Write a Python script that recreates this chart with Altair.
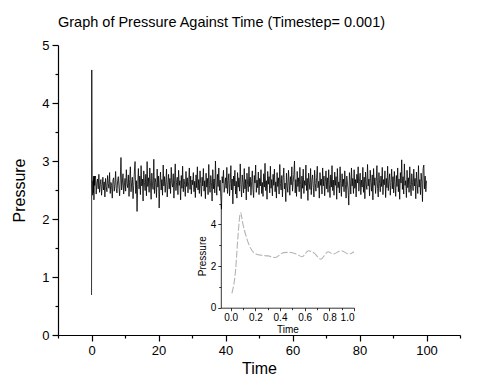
import altair as alt
import pandas as pd

# ---- data ----
# start-up transient (also shown in the inset)
start_time = [0.01, 0.04, 0.06, 0.08, 0.10, 0.13, 0.17, 0.21, 0.25, 0.305, 0.36, 0.43, 0.48,
              0.535, 0.58, 0.63, 0.68, 0.73, 0.79, 0.83, 0.895, 0.96, 1.0]
start_pressure = [0.69, 1.81, 3.50, 4.57, 4.00, 3.34, 2.77, 2.57, 2.52, 2.49, 2.41, 2.65, 2.66,
                  2.57, 2.45, 2.74, 2.61, 2.33, 2.69, 2.58, 2.74, 2.58, 2.69]

# fluctuating pressure, one value every 0.2 time units from 1.2 to 100
noise_pressure = [
    2.58, 2.71, 2.49, 2.66, 2.55, 2.74, 2.43, 2.62, 2.69, 2.52,
    2.77, 2.46, 2.60, 2.68, 2.41, 2.57, 2.72, 2.50, 2.64, 2.38,
    2.70, 2.56, 2.47, 2.75, 2.61, 2.53, 2.80, 2.44, 2.63, 2.58,
    2.36, 2.67, 2.71, 2.48, 2.59, 2.82, 2.52, 2.45, 2.66, 2.73,
    2.55, 2.40, 2.69, 3.06, 2.50, 2.62, 2.78, 2.43, 2.57, 2.70,
    2.48, 2.85, 2.61, 2.54, 2.76, 2.39, 2.68, 2.90, 2.47, 2.63,
    2.72, 2.35, 2.58, 2.81, 2.99, 2.44, 2.66, 2.13, 2.60, 2.87,
    2.52, 2.74, 2.42, 2.92, 2.57, 2.69, 2.31, 2.83, 2.63, 2.49,
    2.77, 2.40, 2.99, 2.56, 2.71, 2.46, 2.88, 2.62, 2.34, 2.79,
    2.58, 2.51, 3.03, 2.44, 2.70, 2.63, 2.37, 2.86, 2.55, 2.74,
    2.19, 2.62, 2.81, 2.50, 2.68, 2.41, 2.93, 2.57, 2.73, 2.46,
    2.64, 2.86, 2.38, 2.59, 2.77, 2.52, 2.70, 2.44, 2.89, 2.61,
    2.55, 2.78, 2.36, 2.67, 2.95, 2.49, 2.63, 2.72, 2.42, 2.84,
    2.58, 2.66, 2.33, 2.75, 2.53, 2.91, 2.47, 2.69, 2.60, 2.39,
    2.82, 2.56, 2.71, 2.45, 2.64, 2.88, 2.51, 2.74, 2.43, 2.67,
    2.59, 2.80, 2.47, 2.65, 2.37, 2.76, 2.54, 2.90, 2.50, 2.68,
    2.44, 2.83, 2.61, 2.39, 2.72, 2.57, 2.87, 2.48, 2.66, 2.35,
    2.79, 2.55, 2.70, 2.42, 2.94, 2.58, 2.46, 2.75, 2.63, 2.31,
    2.85, 2.52, 2.69, 2.45, 3.00, 2.60, 2.41, 2.77, 2.56, 2.88,
    2.49, 2.67, 2.38, 2.17, 2.73, 2.62, 2.84, 2.46, 2.58, 2.71,
    2.53, 2.89, 2.44, 2.66, 2.78, 2.40, 2.61, 2.92, 2.50, 2.69,
    2.26, 2.74, 2.57, 2.84, 2.43, 2.65, 2.36, 2.80, 2.55, 2.71,
    2.48, 2.95, 2.59, 2.38, 2.76, 2.63, 2.45, 2.87, 2.52, 2.68,
    2.33, 2.79, 2.60, 2.47, 2.90, 2.56, 2.72, 2.41, 2.64, 2.83,
    2.51, 2.37, 2.75, 2.62, 2.93, 2.46, 2.67, 2.54, 2.81, 2.42,
    2.70, 2.57, 2.85, 2.44, 2.63, 2.39, 2.78, 2.55, 2.96, 2.49,
    2.66, 2.34, 2.82, 2.60, 2.73, 2.45, 2.91, 2.53, 2.68, 2.40,
    2.77, 2.58, 2.86, 2.47, 2.64, 2.36, 2.80, 2.56, 2.71, 2.43,
    2.94, 2.61, 2.50, 2.75, 2.38, 2.69, 2.88, 2.52, 2.62, 2.30,
    2.79, 2.57, 2.46, 2.84, 2.65, 2.41, 2.73, 2.59, 2.90, 2.48,
    2.63, 2.77, 3.00, 2.45, 2.68, 2.39, 2.82, 2.56, 2.71, 2.47,
    2.89, 2.60, 2.35, 2.74, 2.53, 2.86, 2.44, 2.66, 2.58, 2.93,
    2.49, 2.70, 2.32, 2.79, 2.62, 2.51, 2.87, 2.42, 2.67, 2.76,
    2.55, 2.38, 2.84, 2.61, 2.48, 2.72, 2.91, 2.54, 2.65, 2.36,
    2.80, 2.58, 2.69, 2.43, 2.88, 2.57, 2.74, 2.40, 2.64, 2.83,
    2.52, 2.71, 2.46, 2.85, 2.60, 2.37, 2.76, 2.55, 2.92, 2.49,
    2.67, 2.41, 2.81, 2.58, 2.73, 2.34, 2.87, 2.54, 2.64, 2.45,
    2.90, 2.61, 2.39, 2.78, 2.56, 2.69, 2.47, 2.83, 2.59, 2.36,
    2.74, 2.62, 2.50, 2.24, 2.80, 2.66, 2.43, 2.88, 2.57, 2.70,
    2.44, 2.85, 2.53, 2.68, 2.38, 2.77, 2.62, 2.90, 2.48, 2.65,
    2.79, 2.42, 2.67, 2.55, 2.89, 2.46, 2.72, 2.35, 2.81, 2.60,
    2.51, 2.94, 2.57, 2.69, 2.40, 2.84, 2.63, 2.48, 2.76, 2.33,
    2.87, 2.58, 2.71, 2.44, 2.65, 2.92, 2.53, 2.38, 2.80, 2.61,
    2.47, 2.74, 2.56, 2.89, 2.42, 2.68, 2.59, 2.83, 2.37, 2.70,
    2.54, 2.91, 2.49, 2.66, 2.78, 2.41, 2.63, 2.86, 2.52, 2.73,
    2.45, 2.82, 2.60, 2.39, 2.75, 2.56, 2.88, 2.47, 2.69, 2.34,
    2.80, 2.62, 3.02, 2.51, 2.73, 2.43, 2.95, 2.58, 2.66, 2.37,
    2.84, 2.54, 2.71, 2.46, 2.90, 2.59, 2.40, 2.78, 2.63, 2.49,
    2.86, 2.57, 2.70, 2.35, 2.81, 2.61, 2.44, 2.92, 2.55, 2.68,
    2.42, 2.79, 2.64, 2.30, 2.87, 2.93, 2.52, 2.74, 2.47, 2.66,
]
noise_time = [round(0.2 * (i + 1), 1) for i in range(len(noise_pressure))]

main_df = pd.DataFrame({
    "Time": start_time + [t for t in noise_time if t > 1.0],
    "Pressure": start_pressure + [p for t, p in zip(noise_time, noise_pressure) if t > 1.0],
})
inset_df = pd.DataFrame({"t": start_time, "p": start_pressure})

FONT = "Liberation Sans"

main = alt.Chart(main_df).mark_line(color="black", strokeWidth=0.8).encode(
    x=alt.X("Time:Q",
            scale=alt.Scale(domain=[-10, 110], nice=False, zero=False),
            axis=alt.Axis(
                title="Time", values=list(range(-10, 111, 10)),
                labelExpr="datum.value % 20 == 0 ? format(datum.value, 'd') : ''",
                tickSize={"condition": {"test": "datum.value % 20 == 0", "value": 6}, "value": 3},
                grid=False, domainColor="black", tickColor="black", labelColor="black",
                titleColor="black", labelFontSize=13, titleFontSize=16, titleFontWeight="normal",
                labelFont=FONT, titleFont=FONT, labelPadding=3, titlePadding=3,
                domainWidth=1.2, tickWidth=1.2)),
    y=alt.Y("Pressure:Q",
            scale=alt.Scale(domain=[0, 5], nice=False, zero=False),
            axis=alt.Axis(
                title="Pressure", values=[i * 0.5 for i in range(11)],
                labelExpr="datum.value % 1 == 0 ? format(datum.value, 'd') : ''",
                tickSize={"condition": {"test": "datum.value % 1 == 0", "value": 6}, "value": 3},
                grid=False, domainColor="black", tickColor="black", labelColor="black",
                titleColor="black", labelFontSize=13, titleFontSize=16, titleFontWeight="normal",
                labelFont=FONT, titleFont=FONT, labelPadding=3, titlePadding=14,
                domainWidth=1.2, tickWidth=1.2)),
)

inset = alt.Chart(inset_df).mark_line(
    color="#b4b4b4", strokeWidth=1.1, strokeDash=[7, 2], interpolate="monotone"
).encode(
    x=alt.X("t:Q",
            scale=alt.Scale(domain=[-0.08, 1.0], range=[162.8, 296.0], nice=False, zero=False),
            axis=alt.Axis(
                title="Time", orient="bottom", offset=-27.3,
                values=[round(i * 0.1, 1) for i in range(11)],
                labelExpr="round(datum.value * 10) % 2 == 0 ? format(datum.value, '.1f') : ''",
                tickSize={"condition": {"test": "round(datum.value * 10) % 2 == 0", "value": 3}, "value": 2},
                grid=False, domainColor="black", tickColor="black", labelColor="black",
                titleColor="black", labelFontSize=10, titleFontSize=10, titleFontWeight="normal",
                labelFont=FONT, titleFont=FONT, labelPadding=2, titlePadding=2,
                domainWidth=0.8, tickWidth=0.8)),
    y=alt.Y("p:Q",
            scale=alt.Scale(domain=[0, 5], range=[262.7, 158.7], nice=False, zero=False),
            axis=alt.Axis(
                title="Pressure", orient="left", offset=-162.8,
                values=[0, 1, 2, 3, 4, 5],
                labelExpr="datum.value % 2 == 0 ? datum.label : ''",
                tickSize={"condition": {"test": "datum.value % 2 == 0", "value": 3}, "value": 2},
                grid=False, domainColor="black", tickColor="black", labelColor="black",
                titleColor="black", labelFontSize=10, titleFontSize=10, titleFontWeight="normal",
                labelFont=FONT, titleFont=FONT, labelPadding=2, titlePadding=3,
                domainWidth=0.8, tickWidth=0.8)),
)

chart = alt.layer(main, inset).resolve_scale(
    x="independent", y="independent"
).properties(
    width=402, height=290,
    title=alt.TitleParams("Graph of Pressure Against Time (Timestep= 0.001)",
                          anchor="start", frame="group", font=FONT, fontSize=14.5,
                          fontWeight="normal", color="black", offset=9),
    autosize=alt.AutoSizeParams(type="none"),
    padding={"left": 50, "top": 37, "right": 32, "bottom": 40},
).configure_view(stroke=None)

chart.save("out.html", embed_options={"renderer": "svg", "actions": False})
